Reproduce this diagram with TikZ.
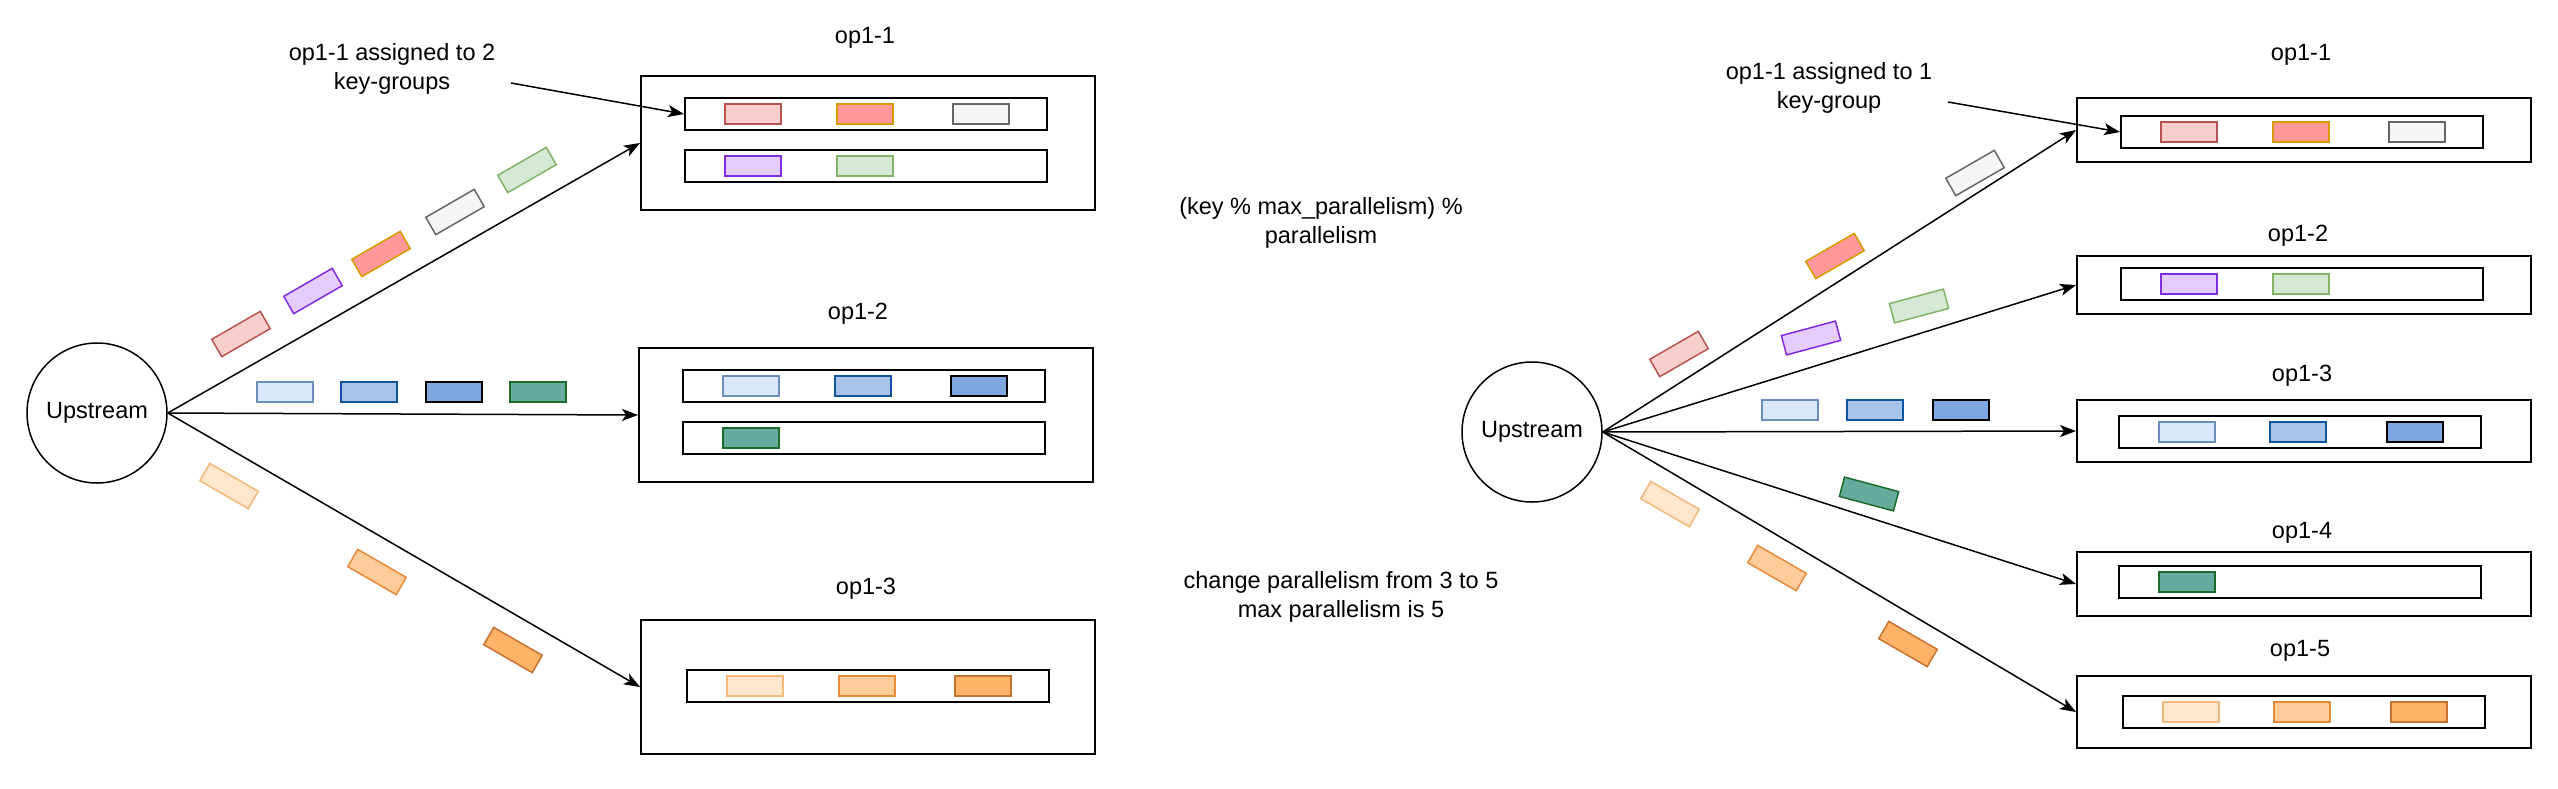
\documentclass[tikz,border=0pt]{standalone}
\usepackage{fontspec}
\setmainfont{Liberation Sans}
\usetikzlibrary{arrows.meta}
\definecolor{pinkF}{HTML}{F8CECC}\definecolor{pinkD}{HTML}{B85450}
\definecolor{salF}{HTML}{FF9999}\definecolor{salD}{HTML}{D79B00}
\definecolor{grayF}{HTML}{F5F5F5}\definecolor{grayD}{HTML}{666666}
\definecolor{purF}{HTML}{E5CCFF}\definecolor{purD}{HTML}{7F2BE0}
\definecolor{grnF}{HTML}{D5E8D4}\definecolor{grnD}{HTML}{82B366}
\definecolor{lbF}{HTML}{DAE8FC}\definecolor{lbD}{HTML}{6C8EBF}
\definecolor{mbF}{HTML}{A9C4EB}\definecolor{mbD}{HTML}{10539E}
\definecolor{dbF}{HTML}{7EA6E0}\definecolor{dbD}{HTML}{000000}
\definecolor{dgF}{HTML}{67AB9F}\definecolor{dgD}{HTML}{1D6B2A}
\definecolor{loF}{HTML}{FFE6CC}\definecolor{loD}{HTML}{F5B77A}
\definecolor{moF}{HTML}{FFCC99}\definecolor{moD}{HTML}{E9893A}
\definecolor{doF}{HTML}{FFB366}\definecolor{doD}{HTML}{C87232}
\tikzset{
  txt/.style={font=\fontsize{23.5}{28.5}\selectfont, align=center, inner sep=0pt},
  upnode/.style={draw, circle, line width=1.5pt, minimum size=140pt, inner sep=0pt, font=\fontsize{23.5}{28.5}\selectfont},
  outerbox/.style={draw, line width=2pt, minimum width=454pt, inner sep=0pt},
  rowbox/.style={draw, line width=2pt, minimum width=362pt, minimum height=32pt, inner sep=0pt},
  item/.style={draw, line width=1.5pt, minimum width=56pt, minimum height=20pt, inner sep=0pt},
  pk/.style={item, fill=pinkF, draw=pinkD},
  sa/.style={item, fill=salF, draw=salD},
  gy/.style={item, fill=grayF, draw=grayD},
  pu/.style={item, fill=purF, draw=purD},
  gr/.style={item, fill=grnF, draw=grnD},
  lb/.style={item, fill=lbF, draw=lbD},
  mb/.style={item, fill=mbF, draw=mbD},
  db/.style={item, fill=dbF, draw=dbD},
  dg/.style={item, fill=dgF, draw=dgD},
  lo/.style={item, fill=loF, draw=loD},
  mo/.style={item, fill=moF, draw=moD},
  do/.style={item, fill=doF, draw=doD},
  arr/.style={line width=1.5pt, -{Stealth[length=16pt,width=12pt,inset=4pt]}}
}
\begin{document}
\begin{tikzpicture}[x=1pt,y=-1pt]
\useasboundingbox (0,0) rectangle (2558,788);

% ================= LEFT =================
\node[upnode] (upL) at (97,413) {Upstream};

% op1-1
\node[txt] (l1lab) at (865,38) {op1-1};
\node[outerbox, minimum height=134pt] (l1) at (868,143) {};
\node[rowbox] (l1r1) at (866,114) {};
\node[rowbox] (l1r2) at (866,166) {};
\node[pk] (l1a) at (753,114) {};
\node[sa] (l1b) at (865,114) {};
\node[gy] (l1c) at (981,114) {};
\node[pu] (l1d) at (753,166) {};
\node[gr] (l1e) at (865,166) {};

% op1-2
\node[txt] (l2lab) at (858,314) {op1-2};
\node[outerbox, minimum height=134pt] (l2) at (866,415) {};
\node[rowbox] (l2r1) at (864,386) {};
\node[rowbox] (l2r2) at (864,438) {};
\node[lb] (l2a) at (751,386) {};
\node[mb] (l2b) at (863,386) {};
\node[db] (l2c) at (979,386) {};
\node[dg] (l2d) at (751,438) {};

% op1-3
\node[txt] (l3lab) at (866,589) {op1-3};
\node[outerbox, minimum height=134pt] (l3) at (868,687) {};
\node[rowbox] (l3r1) at (868,686) {};
\node[lo] (l3a) at (755,686) {};
\node[mo] (l3b) at (867,686) {};
\node[do] (l3c) at (983,686) {};

% annotation
\node[txt] (annL) at (392,69) {op1-1 assigned to 2\\key-groups};
\coordinate (annLs) at (511,83);
\draw[arr] (annLs) -- (l1r1.west);

% arrows
\draw[arr] (upL.east) -- (l1.west);
\draw[arr] (upL.east) -- (l2.west);
\draw[arr] (upL.east) -- (l3.west);

% floating records
\node[pk, rotate=30] (fl1) at (241,334) {};
\node[pu, rotate=30] (fl2) at (313,291) {};
\node[sa, rotate=30] (fl3) at (381,254) {};
\node[gy, rotate=30] (fl4) at (455,212) {};
\node[gr, rotate=30] (fl5) at (527,170) {};
\node[lb] (fl6) at (285,392) {};
\node[mb] (fl7) at (369,392) {};
\node[db] (fl8) at (454,392) {};
\node[dg] (fl9) at (538,392) {};
\node[lo, rotate=-30] (fl10) at (229,486) {};
\node[mo, rotate=-30] (fl11) at (377,572) {};
\node[do, rotate=-30] (fl12) at (513,650) {};

% ================= MIDDLE =================
\node[txt] (formula) at (1321,223) {(key \% max\_parallelism) \%\\parallelism};
\node[txt] (change) at (1341,597) {change parallelism from 3 to 5\\max parallelism is 5};

% ================= RIGHT =================
\node[upnode] (upR) at (1532,432) {Upstream};

\node[txt] (r1lab) at (2301,55) {op1-1};
\node[outerbox, minimum height=64pt] (r1) at (2304,130) {};
\node[rowbox] (r1r) at (2302,132) {};
\node[pk] (r1a) at (2189,132) {};
\node[sa] (r1b) at (2301,132) {};
\node[gy] (r1c) at (2417,132) {};

\node[txt] (r2lab) at (2298,236) {op1-2};
\node[outerbox, minimum height=58pt] (r2) at (2304,285) {};
\node[rowbox] (r2r) at (2302,284) {};
\node[pu] (r2a) at (2189,284) {};
\node[gr] (r2b) at (2301,284) {};

\node[txt] (r3lab) at (2302,376) {op1-3};
\node[outerbox, minimum height=62pt] (r3) at (2304,431) {};
\node[rowbox] (r3r) at (2300,432) {};
\node[lb] (r3a) at (2187,432) {};
\node[mb] (r3b) at (2298,432) {};
\node[db] (r3c) at (2415,432) {};

\node[txt] (r4lab) at (2302,533) {op1-4};
\node[outerbox, minimum height=64pt] (r4) at (2304,584) {};
\node[rowbox] (r4r) at (2300,582) {};
\node[dg] (r4a) at (2187,582) {};

\node[txt] (r5lab) at (2300,651) {op1-5};
\node[outerbox, minimum height=72pt] (r5) at (2304,712) {};
\node[rowbox] (r5r) at (2304,712) {};
\node[lo] (r5a) at (2191,712) {};
\node[mo] (r5b) at (2302,712) {};
\node[do] (r5c) at (2419,712) {};

\node[txt] (annR) at (1829,88) {op1-1 assigned to 1\\key-group};
\coordinate (annRs) at (1948,102);
\draw[arr] (annRs) -- (r1r.west);

\draw[arr] (upR.east) -- (r1.west);
\draw[arr] (upR.east) -- (r2.west);
\draw[arr] (upR.east) -- (r3.west);
\draw[arr] (upR.east) -- (r4.west);
\draw[arr] (upR.east) -- (r5.west);

\node[pk, rotate=30] (fr1) at (1679,354) {};
\node[sa, rotate=30] (fr2) at (1835,256) {};
\node[gy, rotate=30] (fr3) at (1975,173) {};
\node[pu, rotate=15] (fr4) at (1811,338) {};
\node[gr, rotate=15] (fr5) at (1919,306) {};
\node[lb] (fr6) at (1790,410) {};
\node[mb] (fr7) at (1875,410) {};
\node[db] (fr8) at (1961,410) {};
\node[dg, rotate=-15] (fr9) at (1869,494) {};
\node[lo, rotate=-30] (fr10) at (1670,504) {};
\node[mo, rotate=-30] (fr11) at (1777,568) {};
\node[do, rotate=-30] (fr12) at (1908,644) {};
\end{tikzpicture}
\end{document}
